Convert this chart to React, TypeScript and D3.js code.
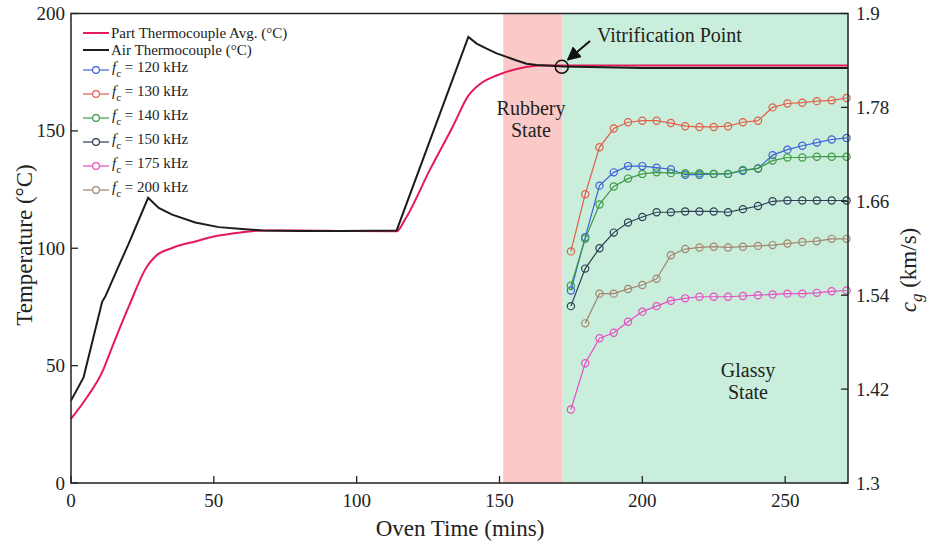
import React from "react";
import * as d3 from "d3";

const W = 932;
const H = 544;
const M = { left: 71, right: 848, top: 13.5, bottom: 483 };
const FONT = "Liberation Serif, Times New Roman, serif";

// oven temperature traces (mins, °C)
const PART_TIME = [0, 5.6, 10.9, 14.4, 20.2, 26.6, 29.5, 35.4, 43.5, 51.7, 59.9, 66.9, 80, 95, 114, 116.9, 125.7, 133.8, 139.1, 143.2, 149, 157.2, 164.2, 172.3, 200, 240, 272];
const PART_TEMP = [27.3, 36.5, 47.2, 57.9, 75.1, 92.2, 96.5, 100.1, 102.9, 105.4, 106.8, 107.6, 107.6, 107.4, 107.2, 112.2, 133.6, 152.2, 165, 170, 173.6, 176.7, 177.9, 177.9, 177.9, 177.9, 177.9];

const AIR_TIME = [0, 4.4, 10.9, 12, 16.1, 20.2, 27, 30.7, 35.4, 43.5, 51.7, 59.9, 66.9, 80, 95, 114, 139.1, 142, 145.5, 149, 152.5, 156, 159.5, 163, 166.5, 172.3, 200, 240, 272];
const AIR_TEMP = [35.1, 45, 77.2, 79.4, 90.8, 102, 121.5, 117.2, 114.3, 111, 109, 108.2, 107.6, 107.4, 107.3, 107.6, 190, 187.2, 185, 183, 181.5, 180, 178.6, 178.1, 177.9, 177.4, 176.8, 176.8, 176.8];

// group velocity measurements (mins)
const CG_TIME = [175, 180, 185, 190, 195, 200, 205, 210, 215, 220, 225, 230, 235.2, 240.5, 245.6, 250.8, 256, 261.1, 266.3, 271.5];
const CG_120 = [1.546, 1.614, 1.68, 1.697, 1.705, 1.705, 1.703, 1.701, 1.694, 1.694, 1.695, 1.695, 1.699, 1.702, 1.719, 1.726, 1.731, 1.735, 1.739, 1.741];
const CG_130 = [1.596, 1.669, 1.729, 1.753, 1.761, 1.763, 1.763, 1.76, 1.756, 1.755, 1.755, 1.756, 1.761, 1.763, 1.78, 1.785, 1.786, 1.788, 1.789, 1.792];
const CG_140 = [1.552, 1.612, 1.656, 1.679, 1.689, 1.695, 1.697, 1.696, 1.696, 1.696, 1.695, 1.695, 1.7, 1.702, 1.712, 1.716, 1.716, 1.717, 1.717, 1.717];
const CG_150 = [1.526, 1.574, 1.6, 1.62, 1.633, 1.64, 1.646, 1.646, 1.647, 1.647, 1.647, 1.646, 1.65, 1.654, 1.66, 1.661, 1.661, 1.661, 1.661, 1.661];
const CG_175 = [1.394, 1.453, 1.485, 1.492, 1.506, 1.519, 1.526, 1.533, 1.536, 1.538, 1.538, 1.538, 1.539, 1.54, 1.541, 1.542, 1.542, 1.543, 1.545, 1.546];
const CG_200 = [1.504, 1.542, 1.542, 1.548, 1.553, 1.561, 1.591, 1.599, 1.601, 1.602, 1.601, 1.602, 1.603, 1.604, 1.606, 1.608, 1.609, 1.612, 1.612];

const X_TICKS = [0, 50, 100, 150, 200, 250];
const T_TICKS = [0, 50, 100, 150, 200];
const CG_TICKS = [1.3, 1.42, 1.54, 1.66, 1.78, 1.9];
const RUBBERY = [151.3, 172.1];
const VITRIFICATION = [171.8, 177.3];

const series = [
  { f: "120", color: "#3b63d8", vals: CG_120, t: CG_TIME },
  { f: "130", color: "#e0604a", vals: CG_130, t: CG_TIME },
  { f: "140", color: "#3f9a45", vals: CG_140, t: CG_TIME },
  { f: "150", color: "#2e3f55", vals: CG_150, t: CG_TIME },
  { f: "175", color: "#e64fc3", vals: CG_175, t: CG_TIME },
  { f: "200", color: "#a48670", vals: CG_200, t: CG_TIME.slice(1) },
];

export default function App() {
  const x = d3.scaleLinear().domain([0, 272]).range([M.left, M.right]);
  const yT = d3.scaleLinear().domain([0, 200]).range([M.bottom, M.top]);
  const yC = d3.scaleLinear().domain([1.3, 1.9]).range([M.bottom, M.top]);

  const partLine = d3
    .line<number>()
    .x((_, i) => x(PART_TIME[i]))
    .y((d) => yT(d))
    .curve(d3.curveMonotoneX);
  const airLine = d3
    .line<number>()
    .x((_, i) => x(AIR_TIME[i]))
    .y((d) => yT(d));

  const vx = x(VITRIFICATION[0]);
  const vy = yT(VITRIFICATION[1]);

  return (
    <svg
      width={W}
      height={H}
      style={{ position: "absolute", left: 0, top: 0, background: "#fff" }}
      fontFamily={FONT}
    >
      <defs>
        <marker id="arr" viewBox="0 0 10 10" refX="9" refY="5" markerWidth="7" markerHeight="7" orient="auto">
          <path d="M0,0 L10,5 L0,10 z" fill="#111" />
        </marker>
      </defs>

      {/* phase bands */}
      <rect x={x(RUBBERY[0])} y={M.top} width={x(RUBBERY[1]) - x(RUBBERY[0])} height={M.bottom - M.top} fill="#fcc9c9" />
      <rect x={x(RUBBERY[1])} y={M.top} width={M.right - x(RUBBERY[1])} height={M.bottom - M.top} fill="#c9eedb" />

      {/* temperatures */}
      <path d={partLine(PART_TEMP) || ""} fill="none" stroke="#e6195c" strokeWidth={2} />
      <path d={airLine(AIR_TEMP) || ""} fill="none" stroke="#1c1c1c" strokeWidth={2} />

      {/* group velocity series */}
      {series.map((s) => {
        const line = d3
          .line<number>()
          .x((_, i) => x(s.t[i]))
          .y((d) => yC(d));
        return (
          <g key={s.f}>
            <path d={line(s.vals) || ""} fill="none" stroke={s.color} strokeWidth={1.2} />
            {s.vals.map((v, i) => (
              <circle key={i} cx={x(s.t[i])} cy={yC(v)} r={3.6} fill="none" stroke={s.color} strokeWidth={1.2} />
            ))}
          </g>
        );
      })}

      {/* vitrification marker */}
      <circle cx={vx} cy={vy} r={6.5} fill="none" stroke="#111" strokeWidth={1.5} />
      <line x1={590} y1={41} x2={vx + 6} y2={vy - 7} stroke="#111" strokeWidth={2} markerEnd="url(#arr)" />
      <text x={597} y={42} fontSize={20} fill="#222">Vitrification Point</text>

      <text x={531} y={115} fontSize={20} textAnchor="middle" fill="#222">Rubbery</text>
      <text x={531} y={137} fontSize={20} textAnchor="middle" fill="#222">State</text>
      <text x={748} y={377} fontSize={20} textAnchor="middle" fill="#222">Glassy</text>
      <text x={748} y={399} fontSize={20} textAnchor="middle" fill="#222">State</text>

      {/* frame */}
      <rect x={M.left} y={M.top} width={M.right - M.left} height={M.bottom - M.top} fill="none" stroke="#222" strokeWidth={1.5} />

      {/* bottom axis */}
      {X_TICKS.map((t) => (
        <g key={t}>
          <line x1={x(t)} x2={x(t)} y1={M.bottom} y2={M.bottom - 7} stroke="#222" strokeWidth={1.3} />
          <text x={x(t)} y={507} fontSize={19} textAnchor="middle" fill="#222">{t}</text>
        </g>
      ))}
      <text x={460} y={536} fontSize={23} textAnchor="middle" fill="#222">Oven Time (mins)</text>

      {/* left axis */}
      {T_TICKS.map((t) => (
        <g key={t}>
          <line x1={M.left} x2={M.left + 7} y1={yT(t)} y2={yT(t)} stroke="#222" strokeWidth={1.3} />
          <text x={65} y={yT(t) + 6.5} fontSize={19} textAnchor="end" fill="#222">{t}</text>
        </g>
      ))}
      <text transform="translate(32,245) rotate(-90)" fontSize={23} textAnchor="middle" fill="#222">Temperature (°C)</text>

      {/* right axis */}
      {CG_TICKS.map((t) => (
        <g key={t}>
          <line x1={M.right} x2={M.right - 7} y1={yC(t)} y2={yC(t)} stroke="#222" strokeWidth={1.3} />
          <text x={856} y={yC(t) + 6.5} fontSize={19} fill="#222">{d3.format(".2~f")(t)}</text>
        </g>
      ))}
      <text transform="translate(916,270) rotate(-90)" fontSize={23} textAnchor="middle" fill="#222">
        <tspan fontStyle="italic">c</tspan>
        <tspan fontStyle="italic" fontSize={17} dy={6}>g</tspan>
        <tspan dy={-6}> (km/s)</tspan>
      </text>

      {/* legend */}
      <g fontSize={15} fill="#222">
        <line x1={83} x2={109} y1={33} y2={33} stroke="#e6195c" strokeWidth={2} />
        <text x={111} y={38}>Part Thermocouple Avg. (°C)</text>
        <line x1={83} x2={109} y1={50} y2={50} stroke="#1c1c1c" strokeWidth={2} />
        <text x={111} y={55}>Air Thermocouple (°C)</text>
        {series.map((s, i) => {
          const ly = 70 + i * 24;
          return (
            <g key={s.f}>
              <line x1={83} x2={109} y1={ly} y2={ly} stroke={s.color} strokeWidth={1.2} />
              <circle cx={96} cy={ly} r={3.4} fill="#fff" stroke={s.color} strokeWidth={1.2} />
              <text x={112} y={ly + 2}>
                <tspan fontStyle="italic">f</tspan>
                <tspan fontSize={11} dy={5}>c</tspan>
                <tspan dy={-5}>{` = ${s.f} kHz`}</tspan>
              </text>
            </g>
          );
        })}
      </g>
    </svg>
  );
}
